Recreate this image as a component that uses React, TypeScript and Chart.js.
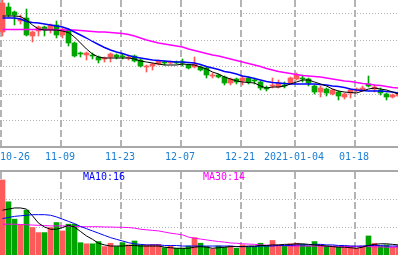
import React, { useEffect, useRef } from "react";
import { Chart, registerables } from "chart.js";

Chart.register(...registerables);

// ---------- data ----------
const dates = [
  "2020-10-26", "2020-10-27", "2020-10-28", "2020-10-29", "2020-10-30",
  "2020-11-02", "2020-11-03", "2020-11-04", "2020-11-05", "2020-11-06",
  "2020-11-09", "2020-11-10", "2020-11-11", "2020-11-12", "2020-11-13",
  "2020-11-16", "2020-11-17", "2020-11-18", "2020-11-19", "2020-11-20",
  "2020-11-23", "2020-11-24", "2020-11-25", "2020-11-26", "2020-11-27",
  "2020-11-30", "2020-12-01", "2020-12-02", "2020-12-03", "2020-12-04",
  "2020-12-07", "2020-12-08", "2020-12-09", "2020-12-10", "2020-12-11",
  "2020-12-14", "2020-12-15", "2020-12-16", "2020-12-17", "2020-12-18",
  "2020-12-21", "2020-12-22", "2020-12-23", "2020-12-24", "2020-12-25",
  "2020-12-28", "2020-12-29", "2020-12-30", "2020-12-31", "2021-01-04",
  "2021-01-05", "2021-01-06", "2021-01-07", "2021-01-08", "2021-01-11",
  "2021-01-12", "2021-01-13", "2021-01-14", "2021-01-15", "2021-01-18",
  "2021-01-19", "2021-01-20", "2021-01-21", "2021-01-22", "2021-01-25",
  "2021-01-26", "2021-01-27",
];

const tickDates = ["2020-10-26", "2020-11-09", "2020-11-23", "2020-12-07", "2020-12-21", "2021-01-04", "2021-01-18"];
const tickLabels = ["10-26", "11-09", "11-23", "12-07", "12-21", "2021-01-04", "01-18"];

const open = [
  16.8, 19.3, 18.8, 17.9, 18.2, 16.4, 16.9, 17.3, 17.1, 17.5,
  16.5, 17.0, 15.7, 14.7, 14.5, 14.5, 14.3, 14.1, 14.3, 14.5,
  14.4, 14.2, 14.4, 14.0, 13.3, 13.4, 13.6, 13.8, 13.7, 13.8,
  13.8, 13.5, 13.3, 13.3, 13.2, 12.4, 12.5, 12.3, 11.7, 12.1,
  11.9, 12.2, 12.0, 11.8, 11.2, 11.4, 11.3, 11.5, 11.7, 12.1,
  12.2, 12.1, 11.4, 10.8, 11.1, 10.6, 10.8, 10.3, 10.7, 11.0,
  11.0, 11.6, 11.1, 11.0, 10.6, 10.3, 10.4,
];
const close = [
  19.7, 18.5, 18.5, 18.1, 16.5, 16.8, 17.3, 17.0, 17.5, 16.5,
  17.1, 15.7, 14.4, 14.6, 14.7, 14.4, 14.0, 14.2, 14.6, 14.3,
  14.3, 14.3, 13.9, 13.4, 13.4, 13.6, 13.9, 13.7, 13.8, 13.7,
  13.7, 13.2, 13.6, 13.0, 12.5, 12.5, 12.3, 11.7, 12.1, 11.8,
  12.2, 11.8, 11.9, 11.2, 11.1, 11.5, 11.7, 11.4, 12.2, 12.5,
  12.1, 11.7, 10.8, 11.2, 10.7, 11.0, 10.4, 10.6, 11.0, 11.1,
  11.2, 11.4, 11.3, 10.7, 10.3, 10.5, 10.7,
];
const high = [
  20.5, 19.7, 18.9, 18.5, 19.1, 16.9, 17.4, 17.4, 17.6, 17.9,
  17.2, 17.1, 15.8, 14.8, 14.8, 14.7, 14.4, 14.3, 14.7, 14.6,
  14.6, 14.5, 14.5, 14.1, 13.5, 13.7, 14.0, 13.9, 13.9, 13.9,
  14.1, 13.6, 14.3, 13.4, 13.3, 12.7, 12.6, 12.4, 12.2, 12.2,
  12.4, 12.3, 12.2, 11.9, 11.4, 12.2, 12.0, 11.8, 12.3, 12.7,
  12.5, 12.2, 11.5, 11.4, 11.2, 11.1, 10.9, 10.7, 11.1, 11.2,
  11.4, 12.4, 11.5, 11.2, 10.7, 10.6, 10.9,
];
const low = [
  16.4, 18.3, 17.5, 17.6, 16.4, 15.8, 16.4, 16.4, 16.7, 16.2,
  16.2, 15.4, 14.3, 14.3, 14.0, 14.1, 13.7, 13.8, 13.8, 14.1,
  14.1, 14.0, 13.8, 13.3, 12.8, 13.0, 13.5, 13.5, 13.6, 13.6,
  13.4, 13.1, 13.2, 12.9, 12.2, 12.2, 12.2, 11.5, 11.5, 11.6,
  11.5, 11.6, 11.6, 11.0, 10.9, 11.2, 11.2, 11.2, 11.6, 12.0,
  11.8, 11.4, 10.6, 10.3, 10.4, 10.5, 10.0, 10.1, 10.2, 10.8,
  10.9, 11.3, 10.8, 10.5, 10.0, 10.2, 10.3,
];

const ma5 = [
  18.4, 18.4, 18.4, 18.35, 18.0, 17.5, 17.1, 17.0, 17.0, 17.0,
  16.9, 16.75, 16.3, 15.7, 15.1, 14.6, 14.3, 14.2, 14.2, 14.2,
  14.2, 14.2, 14.1, 13.9, 13.8, 13.7, 13.6, 13.5, 13.5, 13.5,
  13.6, 13.55, 13.5, 13.3, 13.1, 12.8, 12.6, 12.3, 12.1, 11.9,
  11.8, 11.75, 11.7, 11.4, 11.2, 11.3, 11.3, 11.4, 11.6, 11.8,
  12.0, 12.0, 11.8, 11.6, 11.4, 11.1, 10.9, 10.8, 10.75, 10.7,
  10.9, 11.1, 11.2, 11.1, 11.0, 10.8, 10.6,
];
const ma10 = [
  18.2, 18.2, 18.2, 18.1, 17.85, 17.75, 17.7, 17.6, 17.5, 17.4,
  17.3, 17.1, 16.8, 16.5, 16.2, 15.85, 15.55, 15.25, 15.0, 14.8,
  14.65, 14.45, 14.3, 14.2, 14.1, 14.0, 13.95, 13.9, 13.85, 13.8,
  13.8, 13.75, 13.7, 13.55, 13.35, 13.2, 13.05, 12.85, 12.75, 12.6,
  12.4, 12.3, 12.15, 12.0, 11.85, 11.75, 11.7, 11.65, 11.6, 11.6,
  11.6, 11.6, 11.6, 11.55, 11.5, 11.4, 11.35, 11.25, 11.1, 11.0,
  10.95, 10.9, 10.9, 10.9, 10.85, 10.8, 10.7,
];
const ma30 = [
  17.05, 17.05, 17.05, 17.05, 17.05, 17.05, 17.05, 17.05, 17.05, 17.0,
  17.0, 17.0, 17.0, 16.95, 16.9, 16.85, 16.8, 16.8, 16.75, 16.7,
  16.65, 16.55, 16.4, 16.2, 16.0, 15.85, 15.7, 15.6, 15.5, 15.4,
  15.3, 15.1, 14.95, 14.8, 14.65, 14.5, 14.4, 14.25, 14.1, 13.95,
  13.8, 13.65, 13.5, 13.35, 13.15, 13.0, 12.85, 12.75, 12.65, 12.55,
  12.45, 12.4, 12.35, 12.3, 12.2, 12.1, 12.0, 11.9, 11.85, 11.75,
  11.65, 11.6, 11.5, 11.45, 11.35, 11.25, 11.2,
];

const volume = [
  134, 95, 64, 54, 80, 49, 40, 40, 49, 58,
  43, 55, 55, 22, 20, 20, 24, 15, 21, 15,
  22, 18, 25, 18, 18, 19, 19, 13, 16, 12,
  12, 16, 31, 21, 15, 11, 16, 14, 16, 12,
  18, 14, 15, 21, 16, 26, 18, 16, 20, 21,
  19, 16, 24, 18, 16, 16, 14, 14, 16, 12,
  16, 34, 21, 16, 18, 14, 16,
];
const volMa5 = [
  80, 82, 84, 84, 82, 70, 57, 50, 46, 46,
  49, 53, 50, 42, 34, 28, 21, 18, 16, 16,
  16, 17, 17, 16, 16, 16, 16, 14, 13, 12,
  12, 12, 14, 15, 14, 12, 13, 14, 15, 15,
  15, 16, 16, 17, 17, 18, 18, 19, 19, 20,
  20, 19, 18, 17, 16, 15, 14, 14, 13, 12,
  14, 17, 19, 20, 20, 19, 18,
];
const volMa10 = [
  65, 67, 69, 70, 71, 72, 72, 72, 71, 68,
  64, 60, 56, 51, 47, 43, 39, 35, 31, 28,
  25, 22, 20, 19, 18, 18, 18, 17, 17, 17,
  16, 16, 16, 16, 16, 16, 16, 16, 16, 15,
  15, 15, 15, 16, 16, 16, 17, 17, 17, 18,
  18, 18, 19, 19, 18, 18, 17, 17, 16, 16,
  16, 17, 17, 17, 16, 16, 16,
];
const volMa30 = [
  55, 55, 55, 54.5, 54, 53.5, 53, 52.5, 52, 52,
  52, 51.5, 51, 50.5, 50.5, 50.5, 50.5, 50, 50, 49.5,
  49.5, 49, 48, 46, 45, 44, 43, 41, 39, 37.5,
  36, 32, 30, 28.5, 27, 25.5, 24, 23, 21.5, 21,
  20, 19.5, 19, 18, 17.5, 17, 16.5, 16.5, 16, 16,
  16, 16, 16, 16, 15.5, 15.5, 15.5, 15, 15, 15,
  15, 15, 14.5, 14.5, 14, 14, 14,
];

const priceGrid = [8.0, 10.6, 13.3, 15.9, 18.6];
const volumeGrid = [50, 100];

// ---------- style / layout ----------
const UP = "#ff5a5a";
const DOWN = "#00a400";
const GRID = "#b4b4b4";
const AXIS = "#a8a8a8";
const LABEL = "#1a7fd4";
const C_MA5 = "#000000";
const C_MA10 = "#0000ff";
const C_MA30 = "#ff00ff";
const FONT = '10px "DejaVu Sans Mono", monospace';

const W = 398;
const TOP_H = 170;
const TOP_PAD_BOTTOM = 23;
const VOL_TOP = 170;
const VOL_H = 85;
const SLOT = 6;
const EDGE = -2.5 / SLOT; // slot left edge relative to candle centre
const LINE_NUDGE = 1 / SLOT; // 2px dashed lines sit on the slot's left edge + 1px
const X_MIN = EDGE;
const X_MAX = EDGE + W / SLOT;

const idx = dates.map((_, i) => i);
const isUp = (i: number) => close[i] >= open[i];
const barColors = idx.map((i) => (isUp(i) ? UP : DOWN));

const xScale = (position: string) => ({
  type: "linear",
  position,
  min: X_MIN,
  max: X_MAX,
  offset: false,
  afterBuildTicks: (s: any) => {
    s.ticks = tickDates.map((d) => ({ value: dates.indexOf(d) + EDGE + LINE_NUDGE }));
  },
  ticks: { display: false },
  grid: { color: GRID, lineWidth: 2, drawTicks: false, offset: false },
  border: { display: true, color: AXIS, width: 2, dash: [7, 3] },
});

const lineDs = (values: number[], color: string, width: number, order: number) => ({
  type: "line",
  data: idx.map((i) => ({ x: i, y: values[i] })),
  borderColor: color,
  borderWidth: width,
  pointRadius: 0,
  tension: 0,
  order,
});

const xLabelPlugin = {
  id: "xLabels",
  afterDraw(chart: any) {
    const ctx = chart.ctx;
    const xs = chart.scales.x;
    ctx.save();
    ctx.font = FONT;
    ctx.fillStyle = LABEL;
    ctx.textBaseline = "alphabetic";
    tickDates.forEach((d, j) => {
      const px = xs.getPixelForValue(dates.indexOf(d) + EDGE);
      const text = tickLabels[j];
      const w = ctx.measureText(text).width;
      let left = Math.max(0, px - w / 2);
      left = Math.min(left, chart.width - w);
      ctx.fillText(text, left, chart.chartArea.bottom + 13);
    });
    ctx.restore();
  },
};

const volLabelPlugin = {
  id: "volLabels",
  afterDraw(chart: any) {
    const ctx = chart.ctx;
    ctx.save();
    ctx.font = FONT;
    ctx.textBaseline = "alphabetic";
    ctx.fillStyle = C_MA10;
    ctx.fillText(`MA10:${volMa10[volMa10.length - 1]}`, chart.chartArea.left + 83, chart.chartArea.top + 9);
    ctx.fillStyle = C_MA30;
    ctx.fillText(`MA30:${volMa30[volMa30.length - 1]}`, chart.chartArea.left + 203, chart.chartArea.top + 9);
    ctx.restore();
  },
};

export default function App() {
  const priceRef = useRef<HTMLCanvasElement>(null);
  const volRef = useRef<HTMLCanvasElement>(null);

  useEffect(() => {
    const common = {
      animation: false,
      responsive: false,
      events: [],
      plugins: { legend: { display: false }, tooltip: { enabled: false } },
    };

    const priceChart = new Chart(priceRef.current as HTMLCanvasElement, {
      type: "bar",
      data: {
        datasets: [
          lineDs(ma5, C_MA5, 1, 0),
          lineDs(ma10, C_MA10, 1.4, 1),
          lineDs(ma30, C_MA30, 1.4, 2),
          {
            type: "bar",
            data: idx.map((i) => ({ x: i, y: [open[i], close[i]] })),
            backgroundColor: barColors,
            borderWidth: 0,
            barThickness: 5,
            minBarLength: 1,
            grouped: false,
            order: 3,
          },
          {
            type: "bar",
            data: idx.map((i) => ({ x: i, y: [low[i], high[i]] })),
            backgroundColor: barColors,
            borderWidth: 0,
            barThickness: 1,
            grouped: false,
            order: 4,
          },
        ],
      } as any,
      options: {
        ...common,
        layout: { padding: { left: 0, right: 0, top: 0, bottom: TOP_PAD_BOTTOM } },
        scales: {
          x: xScale("bottom"),
          y: {
            type: "linear",
            min: 5.3,
            max: 20,
            afterBuildTicks: (s: any) => {
              s.ticks = priceGrid.map((v) => ({ value: v }));
            },
            ticks: { display: false },
            grid: { color: GRID, lineWidth: 1, drawTicks: false },
            border: { display: false, dash: [1, 2] },
          },
        },
      } as any,
      plugins: [xLabelPlugin],
    });

    const volChart = new Chart(volRef.current as HTMLCanvasElement, {
      type: "bar",
      data: {
        datasets: [
          lineDs(volMa5, C_MA5, 1, 0),
          lineDs(volMa10, C_MA10, 1, 1),
          lineDs(volMa30, C_MA30, 1, 2),
          {
            type: "bar",
            data: idx.map((i) => ({ x: i, y: volume[i] })),
            backgroundColor: barColors,
            borderWidth: 0,
            barThickness: 5,
            grouped: false,
            order: 3,
          },
        ],
      } as any,
      options: {
        ...common,
        layout: { padding: { top: 1, left: 0, right: 0, bottom: 0 } },
        scales: {
          x: xScale("top"),
          y: {
            type: "linear",
            min: 0,
            max: 150,
            afterBuildTicks: (s: any) => {
              s.ticks = volumeGrid.map((v) => ({ value: v }));
            },
            ticks: { display: false },
            grid: { color: GRID, lineWidth: 1, drawTicks: false },
            border: { display: false, dash: [1, 2] },
          },
        },
      } as any,
      plugins: [volLabelPlugin],
    });

    return () => {
      priceChart.destroy();
      volChart.destroy();
    };
  }, []);

  return (
    <div style={{ position: "absolute", left: 0, top: 0, width: W, height: VOL_TOP + VOL_H, overflow: "hidden", background: "#fff" }}>
      <canvas ref={priceRef} width={W} height={TOP_H} style={{ position: "absolute", left: 0, top: 0 }} />
      <canvas ref={volRef} width={W} height={VOL_H} style={{ position: "absolute", left: 0, top: VOL_TOP }} />
    </div>
  );
}
